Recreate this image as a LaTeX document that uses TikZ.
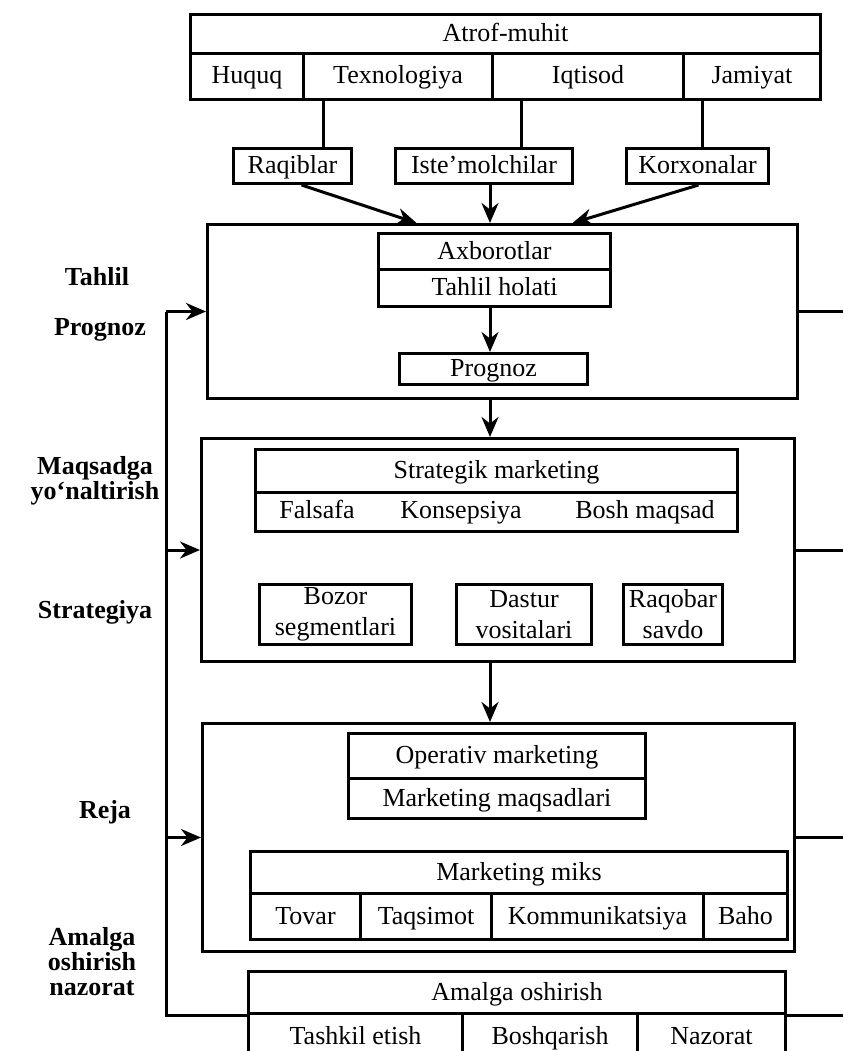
\documentclass[tikz,border=0pt]{standalone}
\usepackage{fontspec}
\setmainfont{Liberation Serif}
\usepackage{tikz}
\usetikzlibrary{arrows.meta}
\usetikzlibrary{positioning}
\tikzset{
    cell/.style={
           rectangle,
           draw=black, line width=3pt,
           inner sep=0pt,
           anchor=north west,
           text centered,
           text height=19pt, text depth=4pt,
           },
    word/.style={
           text height=19pt, text depth=4pt,
           inner sep=0pt,
           },
    twoline/.style={
           align=center,
           text height={}, text depth={},
           font=\fontsize{26}{31}\selectfont,
           },
    sidelabel/.style={
           align=center,
           font=\fontsize{26}{25}\selectfont\bfseries,
           },
}

\begin{document}
\begin{tikzpicture}[x=1pt,y=-1pt,line width=3pt,
  >={Stealth[length=20pt,width=17pt]},
  font=\fontsize{26}{25}\selectfont]
 \useasboundingbox (0,0) rectangle (843,1051);
 \coordinate (spine) at (490,0);
 \coordinate (loop) at (166,0);
 \coordinate (rim) at (843,0);
 \coordinate (tapR) at (323,0);
 \coordinate (tapI) at (521,0);
 \coordinate (tapK) at (702,0);

 % environment
 \node[cell, minimum width=630pt, minimum height=39pt] (atrof) at (189,13) {Atrof-muhit};
 \node[cell, minimum width=113pt, minimum height=46pt] (huquq) at (189,52) {Huquq};
 \node[cell, minimum width=189pt, minimum height=46pt] (texno) at (302,52) {Texnologiya};
 \node[cell, minimum width=191pt, minimum height=46pt] (iqtisod) at (491,52) {Iqtisod};
 \node[cell, minimum width=137pt, minimum height=46pt] (jamiyat) at (682,52) {Jamiyat};

 \node[cell, minimum width=118pt, minimum height=35pt] (raqib) at (232,147) {Raqiblar};
 \node[cell, minimum width=177pt, minimum height=35pt] (istemol) at (394,147) {Iste’molchilar};
 \node[cell, minimum width=142pt, minimum height=35pt] (korxona) at (625,147) {Korxonalar};

 % analysis
 \node[cell, minimum width=590pt, minimum height=174pt] (box1) at (206,223) {};
 \node[cell, minimum width=232pt, minimum height=36pt] (axb) at (377,232) {Axborotlar};
 \node[cell, minimum width=232pt, minimum height=37pt] (tahlilh) at (377,268) {Tahlil holati};
 \node[cell, minimum width=188pt, minimum height=31pt] (prog) at (398,352) {Prognoz};

 % strategy
 \node[cell, minimum width=593pt, minimum height=223pt] (box2) at (200,437) {};
 \node[cell, minimum width=482pt, minimum height=43pt] (strat) at (254,448) {Strategik marketing};
 \node[cell, minimum width=482pt, minimum height=39pt] (stratrow) at (254,491) {};
 \node[word] (falsafa) at (317,511) {Falsafa};
 \node[word] (konsep) at (461,511) {Konsepsiya};
 \node[word] (bosh) at (645,511) {Bosh maqsad};
 \node[cell, twoline, minimum width=152pt, minimum height=60pt] (bozor) at (258,583) {Bozor\\segmentlari};
 \node[cell, twoline, minimum width=135pt, minimum height=60pt] (dastur) at (455,583) {Dastur\\vositalari};
 \node[cell, twoline, minimum width=99pt, minimum height=60pt] (raqobar) at (622,583) {Raqobar\\savdo};

 % operative
 \node[cell, minimum width=592pt, minimum height=228pt] (box3) at (201,722) {};
 \node[cell, minimum width=297pt, minimum height=45pt] (oper) at (347,732) {Operativ marketing};
 \node[cell, minimum width=297pt, minimum height=40pt] (mmaq) at (347,777) {Marketing maqsadlari};
 \node[cell, minimum width=537pt, minimum height=42pt] (miks) at (249,850) {Marketing miks};
 \node[cell, minimum width=110pt, minimum height=46pt] (tovar) at (249,892) {Tovar};
 \node[cell, minimum width=131pt, minimum height=46pt] (taqsim) at (359,892) {Taqsimot};
 \node[cell, minimum width=212pt, minimum height=46pt] (kommun) at (490,892) {Kommunikatsiya};
 \node[cell, minimum width=84pt, minimum height=46pt] (baho) at (702,892) {Baho};

 % implementation
 \node[cell, minimum width=537pt, minimum height=42pt] (amalga) at (247,970) {Amalga oshirish};
 \node[cell, minimum width=214pt, minimum height=46pt] (tashkil) at (247,1012) {Tashkil etish};
 \node[cell, minimum width=175pt, minimum height=46pt] (boshq) at (461,1012) {Boshqarish};
 \node[cell, minimum width=148pt, minimum height=46pt] (nazorat) at (636,1012) {Nazorat};

 % side labels
 \node[sidelabel] (lbtahlil) at (97,277) {Tahlil};
 \node[sidelabel] (lbprog) at (100,330) {Prognoz};
 \node[sidelabel] (lbmaqsad) at (95,481) {Maqsadga\\yo‘naltirish};
 \node[sidelabel] (lbstrat) at (95,612) {Strategiya};
 \node[sidelabel] (lbreja) at (105,812) {Reja};
 \node[sidelabel] (lbamalga) at (92,962) {Amalga\\oshirish\\nazorat};

 % connectors
 \draw (texno.south -| tapR) -- (raqib.north -| tapR);
 \draw (iqtisod.south -| tapI) -- (istemol.north -| tapI);
 \draw (jamiyat.south -| tapK) -- (korxona.north -| tapK);

 \draw[->] ([xshift=9pt]raqib.south) -- ([xshift=-86pt]box1.north);
 \draw[->] (istemol.south -| spine) -- (box1.north -| spine);
 \draw[->] ([xshift=1pt]korxona.south) -- ([xshift=70pt]box1.north);
 \draw[->] (tahlilh.south -| spine) -- (prog.north -| spine);
 \draw[->] (box1.south -| spine) -- (box2.north -| spine);
 \draw[->] (box2.south -| spine) -- (box3.north -| spine);

 \draw (amalga.south west) -- (amalga.south west -| loop) -- (loop |- box1.west);
 \draw[->] (loop |- box1.west) -- (box1.west);
 \draw[->] (loop |- box2.west) -- (box2.west);
 \draw[->] (loop |- box3.west) -- (box3.west);

 \draw (box1.east) -- (box1.east -| rim);
 \draw (box2.east) -- (box2.east -| rim);
 \draw (box3.east) -- (box3.east -| rim);
 \draw (amalga.south east) -- (amalga.south east -| rim);
\end{tikzpicture}
\end{document}
